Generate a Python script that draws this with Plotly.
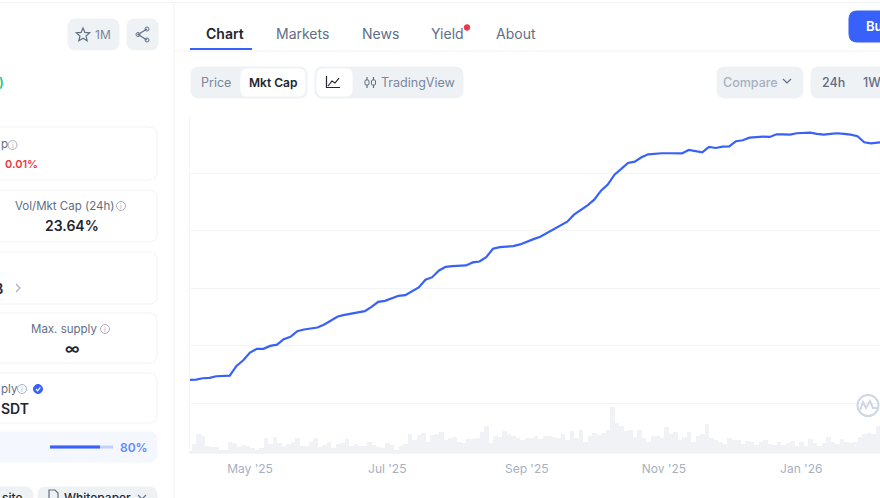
import math
import pandas as pd
import plotly.graph_objects as go

W, H = 880, 498
BLUE = "#3861fb"
GREY = "#616e85"
LIGHT = "#a6b0c3"
DARK = "#222531"
PILL = "#eff2f5"
FONT = "Inter"

# market cap in $B, one reading every 3 days from 4 Apr 2025
mcap_b = [
    144.06, 144.12, 144.35, 144.41, 144.7, 144.8, 144.8, 146.5, 147.48, 148.82,
    149.46, 149.46, 149.98, 150.2, 151.14, 151.55, 152.54, 152.83, 153.06, 153.18,
    153.7, 154.45, 155.09, 155.38, 155.56, 155.85, 156.02, 156.78, 157.65, 157.82,
    158.23, 158.69, 158.81, 159.5, 160.14, 161.48, 161.94, 163.1, 163.74, 163.86,
    163.98, 163.98, 164.5, 164.67, 165.43, 166.88, 167.17, 167.23, 167.35, 167.64,
    168.16, 168.56, 168.98, 169.62, 170.31, 171.01, 171.59, 172.81, 173.56, 174.44,
    175.42, 176.99, 178.04, 179.78, 180.77, 181.81, 182.04, 182.8, 183.32, 183.44,
    183.5, 183.5, 183.44, 183.47, 184.07, 183.9, 183.67, 184.6, 184.42, 184.66,
    184.7, 185.59, 185.76, 186.22, 186.34, 186.4, 186.34, 186.8, 186.8, 186.75,
    186.98, 187.04, 187.1, 186.86, 186.75, 186.86, 186.98, 186.86, 186.75, 186.46,
    185.41, 185.23, 185.41, 185.45,
]
mcap_dates = pd.date_range("2025-04-04", periods=len(mcap_b), freq="3D")

# volume in $B, one reading every 2 days
volume_b = [
    16, 56, 116, 104, 44, 40, 40, 24, 20, 72, 64, 40, 52, 48, 36, 24, 36, 92, 60, 100,
    64, 48, 60, 68, 96, 48, 44, 72, 92, 40, 50, 68, 36, 60, 64, 88, 44, 60, 44,
    44, 72, 54, 40, 36, 64, 52, 24, 44, 60, 116, 80, 112, 124, 72, 112, 120, 128, 80, 96,
    100, 72, 64, 88, 88, 96, 132, 168, 64, 104, 100, 136, 120, 104, 92, 80, 96, 92, 104,
    90, 104, 108, 100, 92, 116, 80, 136, 96, 144, 68, 108, 124, 112, 124, 140, 280, 184, 168, 136,
    144, 100, 140, 96, 72, 108, 108, 96, 160, 120, 128, 84, 100, 128, 68, 108, 120, 176,
    92, 84, 72, 56, 92, 80, 84, 56, 76, 72, 52, 72, 84, 60, 52, 68, 52, 64, 76, 44,
    72, 44, 88, 64, 48, 64, 100, 68, 56, 88, 72, 64, 72, 100, 120, 124, 120, 168,
]
volume_dates = pd.date_range("2025-04-04", periods=len(volume_b), freq="2D")

tick_dates = ["2025-05-01", "2025-07-01", "2025-09-01", "2025-11-01", "2026-01-01"]
tick_labels = ["May '25", "Jul '25", "Sep '25", "Nov '25", "Jan '26"]
grid_values = [140, 150, 160, 170, 180, 190]


def px(x):
    return x / W


def py(y):
    return 1 - y / H


def path_of(points, closed=False):
    s = "M " + " L ".join(f"{px(x):.5f},{py(y):.5f}" for x, y in points)
    return s + (" Z" if closed else "")


shapes = []
notes = []


def box(x0, y0, x1, y1, r=8, fill="white", line=None, width=1):
    p = (
        f"M {px(x0 + r):.5f},{py(y0):.5f} L {px(x1 - r):.5f},{py(y0):.5f} "
        f"Q {px(x1):.5f},{py(y0):.5f} {px(x1):.5f},{py(y0 + r):.5f} "
        f"L {px(x1):.5f},{py(y1 - r):.5f} "
        f"Q {px(x1):.5f},{py(y1):.5f} {px(x1 - r):.5f},{py(y1):.5f} "
        f"L {px(x0 + r):.5f},{py(y1):.5f} "
        f"Q {px(x0):.5f},{py(y1):.5f} {px(x0):.5f},{py(y1 - r):.5f} "
        f"L {px(x0):.5f},{py(y0 + r):.5f} "
        f"Q {px(x0):.5f},{py(y0):.5f} {px(x0 + r):.5f},{py(y0):.5f} Z"
    )
    shapes.append(dict(type="path", xref="paper", yref="paper", path=p, fillcolor=fill,
                       line=dict(color=line or fill, width=width)))


def stroke(points, color=GREY, width=1.2, closed=False, fill=None):
    d = dict(type="path", xref="paper", yref="paper", path=path_of(points, closed),
             line=dict(color=color, width=width))
    if fill:
        d["fillcolor"] = fill
    shapes.append(d)


def dot(x, y, r, fill=None, color=GREY, width=1):
    shapes.append(dict(type="circle", xref="paper", yref="paper",
                       x0=px(x - r), x1=px(x + r), y0=py(y + r), y1=py(y - r),
                       fillcolor=fill or "rgba(0,0,0,0)", line=dict(color=fill or color, width=width)))


def label(x, y, text, size=12, color=GREY, weight=400, anchor="center"):
    notes.append(dict(xref="paper", yref="paper", x=px(x), y=py(y), text=text, showarrow=False,
                      xanchor=anchor, yanchor="middle", borderpad=0,
                      font=dict(family=FONT, size=size, color=color, weight=weight)))


def info(x, y):
    dot(x, y, 4.5, color=LIGHT, width=1)
    label(x, y, "i", size=7, color=LIGHT)


def chevron(x, y, s=4, color=GREY):
    stroke([(x - s, y - s / 2), (x, y + s / 2), (x + s, y - s / 2)], color=color)


# page frame
stroke([(0, 2.5), (W, 2.5)], color="#f1f3f5")
stroke([(174, 3), (174, H)], color="#f1f3f5")
stroke([(174, 51), (W, 51)], color="#f1f3f5")

# left column
box(68, 19, 119, 50, fill=PILL)
star = []
for i in range(10):
    rad = 7 if i % 2 == 0 else 3.2
    ang = -math.pi / 2 + i * math.pi / 5
    star.append((83 + rad * math.cos(ang), 35 + rad * math.sin(ang)))
stroke(star, closed=True)
label(103, 35, "1M", size=12, color="#7a869b")
box(127, 19, 158, 50, fill=PILL)
stroke([(147, 29), (138, 34.5), (147, 40)])
dot(147, 29, 2)
dot(138, 34.5, 2)
dot(147, 40, 2)
label(-2, 82, ")", size=13, color="#16c784", weight=600, anchor="left")

box(-10, 127, 157, 180, line=PILL)
label(0, 144, "p", size=11.5, anchor="left")
info(12.5, 145)
label(4, 164, "0.01%", size=11, color="#ea3943", weight=600, anchor="left")

box(-10, 190, 157, 242, line=PILL)
label(64, 206, "Vol/Mkt Cap (24h)", size=11.5)
info(121, 206)
label(72, 225, "23.64%", size=14, color=DARK, weight=600)

box(-10, 252, 157, 304, line=PILL)
label(-7, 288, "B", size=14, color=DARK, weight=600, anchor="left")
stroke([(16, 284), (20, 288), (16, 292)], color=LIGHT)

box(-10, 313, 157, 363, line=PILL)
label(64, 329, "Max. supply", size=11.5)
info(105, 329)
label(72, 348, "∞", size=15, color=DARK, weight=600)

box(-10, 373, 157, 423, line=PILL)
label(0, 389, "ply", size=11.5, anchor="left")
info(22, 389)
dot(38, 389, 4.5, fill=BLUE)
stroke([(36, 389), (37.6, 390.8), (40.4, 387.4)], color="white", width=1.2)
label(0, 408, "SDT", size=14, color=DARK, weight=600, anchor="left")

box(-10, 432, 157, 462, fill="#f5f7ff")
stroke([(50, 447), (113, 447)], color="#c3d0fd", width=3)
stroke([(50, 447), (100, 447)], color=BLUE, width=3)
label(133.5, 447, "80%", size=12, color="#6188ff", weight=600)

box(-10, 487, 33, 510, fill=PILL)
label(12, 497, "site", size=12, color=DARK, weight=500)
box(38, 487, 157, 510, fill=PILL)
stroke([(49, 502), (49, 490), (55, 490), (58, 493), (58, 502)], color=GREY)
label(97.5, 497, "Whitepaper", size=12, color=DARK, weight=500)
chevron(142, 497)

# tabs
label(225.5, 33, "Chart", size=14, color=DARK, weight=600)
label(302.5, 33, "Markets", size=14, weight=400)
label(380.5, 33, "News", size=14, weight=400)
label(447.5, 33, "Yield", size=14, weight=400)
label(516, 33, "About", size=14, weight=400)
dot(467, 27.5, 2.8, fill="#ea3943")
stroke([(190, 49), (252, 49)], color=BLUE, width=2)
box(849, 11, 900, 42, fill=BLUE)
label(865, 26, "Buy", size=13, color="white", weight=600, anchor="left")

# chart toolbar
box(191, 67, 307, 98, fill=PILL)
label(216, 82, "Price", size=12.5, color="#7a869b")
box(241, 69, 305, 96, r=6)
label(272.5, 82, "Mkt Cap", size=12, color=DARK, weight=600)
box(315, 67, 463, 98, fill=PILL)
box(317, 69, 352, 96, r=6)
stroke([(326.5, 76), (326.5, 87.5), (340, 87.5)], color=DARK)
stroke([(328, 86), (332, 81), (335, 83), (339, 78)], color=DARK)
for cx, top, bot in [(367, 77, 88), (373.5, 77, 88)]:
    stroke([(cx, top), (cx, bot)], color=GREY)
    box(cx - 2, top + 3, cx + 2, bot - 3, r=1, fill=PILL, line=GREY)
label(417.5, 82, "TradingView", size=12.5, color="#7a869b")
box(717, 67, 803, 98, fill=PILL)
label(750, 82, "Compare", size=12.5, color=LIGHT, weight=500)
chevron(787, 81, color=GREY)
box(811, 67, 900, 98, fill=PILL)
label(833, 82, "24h", size=12.5, weight=500)
label(862, 82, "1W", size=12.5, weight=500, anchor="left")

# watermark
dot(868, 405.5, 10.5, color="#cfd6e4", width=2)
stroke([(860, 410), (863, 402), (866, 408), (870, 401), (873, 408), (877, 408)],
       color="#cfd6e4", width=2)

fig = go.Figure()
fig.add_trace(go.Bar(
    x=volume_dates,
    y=volume_b,
    width=172800000,
    marker=dict(color="#f0f2f5", line=dict(width=0)),
    yaxis="y2",
    showlegend=False,
    name="Volume",
))
fig.add_trace(go.Scatter(
    x=mcap_dates,
    y=mcap_b,
    mode="lines",
    line=dict(color=BLUE, width=2.2),
    showlegend=False,
    name="Market cap",
))

plot_bottom = 1 - 453.7 / H
plot_top = 1 - 115.9 / H

fig.update_layout(
    width=W,
    height=H,
    autosize=False,
    margin=dict(l=0, r=0, t=0, b=0),
    paper_bgcolor="white",
    plot_bgcolor="white",
    shapes=shapes,
    annotations=notes,
    bargap=0,
    xaxis=dict(
        domain=[190 / W, 1],
        type="date",
        range=["2025-04-04 08:00", "2026-02-05"],
        tickvals=tick_dates,
        ticktext=tick_labels,
        tickfont=dict(family=FONT, size=12, color=LIGHT),
        ticks="outside",
        ticklen=4,
        tickcolor="white",
        showgrid=False,
        zeroline=False,
    ),
    yaxis=dict(
        domain=[plot_bottom, plot_top],
        range=[131.22, 190],
        tickvals=grid_values,
        showticklabels=False,
        gridcolor="#f1f3f5",
        gridwidth=1,
        zeroline=False,
        showline=True,
        linecolor="#f5f6f8",
    ),
    yaxis2=dict(
        domain=[plot_bottom, plot_top],
        overlaying="y",
        range=[0, 2028],
        visible=False,
    ),
)

fig.write_html("out.html", config={"displayModeBar": False},
               post_script="document.body.style.margin='0';document.documentElement.style.overflow='hidden';")
